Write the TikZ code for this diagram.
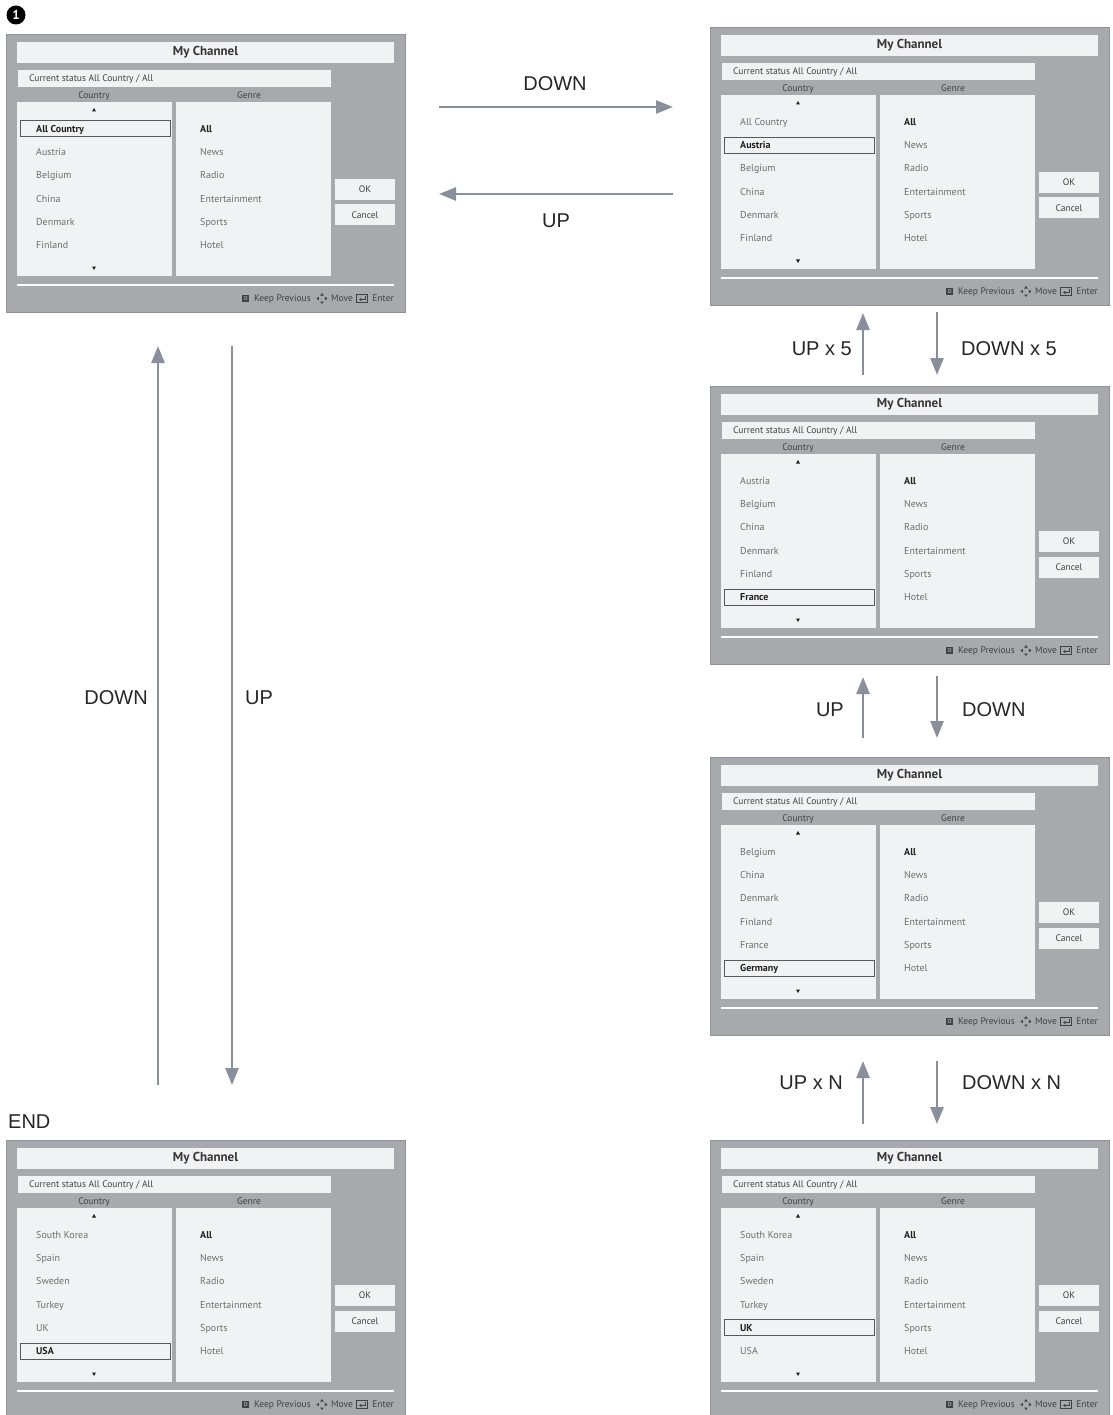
\documentclass[tikz,border=0pt]{standalone}
\usepackage{fontspec}
\setmainfont{PT Sans}
\newfontfamily\labelfont{Liberation Sans}
\usetikzlibrary{arrows.meta,positioning}

\definecolor{scrgray}{HTML}{A7A9AC}
\definecolor{scredge}{HTML}{8F9195}
\definecolor{panel}{HTML}{F1F2F4}
\definecolor{itemtext}{HTML}{6D6E71}
\definecolor{darktext}{HTML}{231F20}
\definecolor{headtext}{HTML}{414042}
\definecolor{flowgray}{HTML}{8A8F9C}

\tikzset{
  screen/.style={draw=scredge,line width=1pt,fill=scrgray,minimum width=399pt,minimum height=278pt,inner sep=0pt},
  titlebar/.style={fill=panel,minimum width=377pt,minimum height=21pt,inner sep=0pt,text=darktext!90,font=\bfseries\fontsize{13}{15}\selectfont},
  statusbar/.style={fill=panel,minimum width=313pt,minimum height=17pt,inner sep=0pt},
  listpanel/.style={fill=panel,minimum width=155pt,minimum height=174pt,inner sep=0pt},
  btn/.style={fill=panel,minimum width=60pt,minimum height=21pt,inner sep=0pt,text=headtext,font=\fontsize{9.5}{11}\selectfont},
  small/.style={inner sep=0pt,text=headtext,font=\fontsize{9.5}{11}\selectfont,text height=6.6pt,text depth=0pt},
  item/.style={inner sep=0pt,anchor=west,text=itemtext,font=\fontsize{10}{12}\selectfont,text height=7pt,text depth=0pt},
  selitem/.style={item,text=darktext,font=\bfseries\fontsize{10}{12}\selectfont},
  selbox/.style={draw=darktext!75,line width=1pt},
  icon/.style={draw=headtext,line width=0.7pt},
  flow/.style={draw=flowgray,line width=2.6pt,-{Triangle[length=17pt,width=13pt]}},
  lbl/.style={inner sep=0pt,text=black!85,font=\labelfont\fontsize{20}{24}\selectfont}
}

\newcommand{\mcscreen}[5]{%
  \node[screen,anchor=north west] (#1) at (#2,#3) {};
  \begin{scope}[shift={(#2,#3)}]
    \node[titlebar] (#1-title) at (199.5,18.5) {My Channel};
    \node[statusbar] (#1-status) at (168.5,44.5) {};
    \node[small,anchor=west] (#1-stxt) at (23,44.5) {Current status All Country / All};
    \node[small] (#1-chead) at (88,61) {Country};
    \node[small] (#1-ghead) at (243,61) {Genre};
    \node[listpanel] (#1-clist) at (88.5,155) {};
    \node[listpanel] (#1-glist) at (247.5,155) {};
    \fill[darktext] (86,77.5) -- (90,77.5) -- (88,74) -- cycle;
    \fill[darktext] (86,232.5) -- (90,232.5) -- (88,236) -- cycle;
    \foreach \c [count=\i] in {#5} {
      \pgfmathsetmacro\iy{95+23.2*(\i-1)}
      \ifnum\i=#4
        \draw[selbox] (14,\iy-8) rectangle (164,\iy+8);
        \node[selitem] (#1-c\i) at (30,\iy) {\c};
      \else
        \node[item] (#1-c\i) at (30,\iy) {\c};
      \fi
    }
    \foreach \g [count=\j] in {All,News,Radio,Entertainment,Sports,Hotel} {
      \pgfmathsetmacro\jy{95+23.2*(\j-1)}
      \ifnum\j=1
        \node[selitem] (#1-g\j) at (194,\jy) {\g};
      \else
        \node[item] (#1-g\j) at (194,\jy) {\g};
      \fi
    }
    \node[btn] (#1-ok) at (359,155.5) {OK};
    \node[btn] (#1-cancel) at (359,181) {Cancel};
    \draw[white,line width=1.3pt] (11,251) -- (388,251);
    \node[small,anchor=east] (#1-enter) at (388,264.5) {Enter};
    \node[small,left=19pt of #1-enter] (#1-move) {Move};
    \node[small,left=20pt of #1-move] (#1-keep) {Keep Previous};
  \end{scope}
  \begin{scope}[shift={([xshift=-10pt]#1-enter.west)}]
    \draw[icon] (-6,-4) rectangle (5,4);
    \draw[icon,-{Triangle[length=2.2pt,width=3.2pt]}] (3,-2.5) -- (3,1) -- (-3,1);
  \end{scope}
  \begin{scope}[shift={([xshift=-9pt]#1-move.west)}]
    \fill[headtext] (0,-5.5) -- (-1.8,-3) -- (1.8,-3) -- cycle;
    \fill[headtext] (0,5.5) -- (-1.8,3) -- (1.8,3) -- cycle;
    \fill[headtext] (-5.5,0) -- (-3,-1.8) -- (-3,1.8) -- cycle;
    \fill[headtext] (5.5,0) -- (3,-1.8) -- (3,1.8) -- cycle;
  \end{scope}
  \begin{scope}[shift={([xshift=-8pt]#1-keep.west)}]
    \fill[headtext] (-3.4,-3.4) rectangle (3.4,3.4);
    \node[inner sep=0pt,text=scrgray,font=\bfseries\fontsize{5.5}{6}\selectfont] (#1-dkey) at (0,0) {D};
  \end{scope}
}

\begin{document}
\begin{tikzpicture}[x=1pt,y=-1pt]
  \useasboundingbox (0,0) rectangle (1112,1415);
  \clip (0,0) rectangle (1112,1415);

  \node[circle,fill=black,text=white,font=\bfseries\fontsize{13}{13}\selectfont,minimum size=19pt,inner sep=0pt] (step1) at (16,15) {1};
  \node[lbl,anchor=west] (endlbl) at (8,1122) {END};

  \mcscreen{s1}{6}{34}{1}{All Country,Austria,Belgium,China,Denmark,Finland}
  \mcscreen{s2}{710}{27}{2}{All Country,Austria,Belgium,China,Denmark,Finland}
  \mcscreen{s3}{710}{386}{6}{Austria,Belgium,China,Denmark,Finland,France}
  \mcscreen{s4}{710}{757}{6}{Belgium,China,Denmark,Finland,France,Germany}
  \mcscreen{s5}{710}{1140}{5}{South Korea,Spain,Sweden,Turkey,UK,USA}
  \mcscreen{s6}{6}{1140}{6}{South Korea,Spain,Sweden,Turkey,UK,USA}

  % arrows
  \coordinate (hdown) at (0,107);
  \coordinate (hup) at (0,194);
  \coordinate (lup) at (158,0);
  \coordinate (ldown) at (232,0);
  \coordinate (rup) at (863,0);
  \coordinate (rdown) at (937,0);

  \draw[flow,shorten <=33pt,shorten >=37pt] (s1.east |- hdown) -- (s2.west |- hdown);
  \draw[flow,shorten <=37pt,shorten >=33pt] (s2.west |- hup) -- (s1.east |- hup);
  \node[lbl] (t-down) at (555,84) {DOWN};
  \node[lbl] (t-up) at (556,221) {UP};

  \draw[flow,shorten <=55pt,shorten >=33pt] (s6.north -| lup) -- (s1.south -| lup);
  \draw[flow,shorten <=33pt,shorten >=55pt] (s1.south -| ldown) -- (s6.north -| ldown);
  \node[lbl,anchor=east] (l-down) at (148,698) {DOWN};
  \node[lbl,anchor=west] (l-up) at (245,698) {UP};

  \draw[flow,shorten <=11pt,shorten >=7pt] (s3.north -| rup) -- (s2.south -| rup);
  \draw[flow,shorten <=6pt,shorten >=11pt] (s2.south -| rdown) -- (s3.north -| rdown);
  \node[lbl,anchor=east] (r-up5) at (852,349) {UP x 5};
  \node[lbl,anchor=west] (r-down5) at (961,349) {DOWN x 5};

  \draw[flow,shorten <=19pt,shorten >=12pt] (s4.north -| rup) -- (s3.south -| rup);
  \draw[flow,shorten <=11pt,shorten >=19pt] (s3.south -| rdown) -- (s4.north -| rdown);
  \node[lbl,anchor=east] (r-up) at (844,710) {UP};
  \node[lbl,anchor=west] (r-down) at (962,710) {DOWN};

  \draw[flow,shorten <=16pt,shorten >=25pt] (s5.north -| rup) -- (s4.south -| rup);
  \draw[flow,shorten <=25pt,shorten >=16pt] (s4.south -| rdown) -- (s5.north -| rdown);
  \node[lbl,anchor=east] (r-upn) at (843,1083) {UP x N};
  \node[lbl,anchor=west] (r-downn) at (962,1083) {DOWN x N};
\end{tikzpicture}
\end{document}
